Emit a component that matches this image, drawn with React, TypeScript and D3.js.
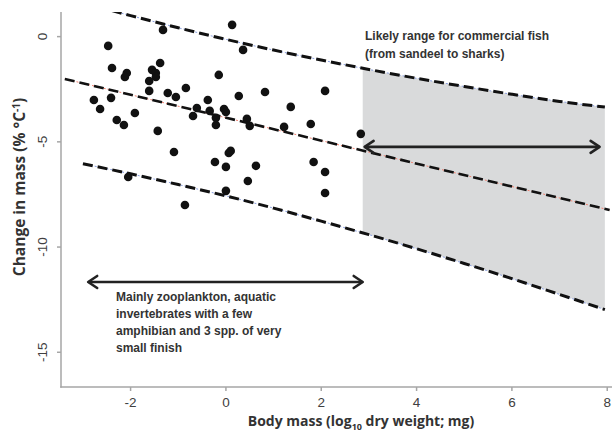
import React from "react";
import * as d3 from "d3";

// Scatter data: body mass (log10 dry weight, mg) vs change in mass (% per °C)
const massX = [0.13, -1.32, -2.47, 0.36, -2.39, -1.38, -2.08, -2.12, -1.55, -1.47, -1.47, -0.15, -1.61, -1.61, -0.84, -1.22, -1.05, -2.77, -2.41, -2.64, 0.27, 0.82, -0.38, -0.61, -0.34, -0.04, 0.0, -0.69, 1.36, -1.91, -2.29, -2.14, -0.21, -0.21, 0.44, 0.5, 1.22, 1.78, -1.43, -1.09, 0.06, 0.1, -0.23, 0.0, 0.63, 1.84, -2.05, 0.46, 0.0, -0.86, 2.08, 2.83, 2.08, 2.08];
const changeY = [0.56, 0.32, -0.44, -0.63, -1.49, -1.25, -1.73, -1.92, -1.58, -1.73, -1.92, -1.82, -2.11, -2.58, -2.44, -2.68, -2.87, -3.01, -2.91, -3.44, -2.82, -2.63, -3.01, -3.39, -3.53, -3.44, -3.58, -3.77, -3.34, -3.63, -3.96, -4.2, -3.86, -4.2, -3.91, -4.24, -4.29, -4.15, -4.48, -5.48, -5.53, -5.43, -5.96, -6.19, -6.14, -5.96, -6.67, -6.86, -7.33, -8.0, -2.58, -4.62, -6.43, -7.43];

// Fitted line end points
const fitX = [-3.38, 8.05];
const fitY = [-2.01, -8.24];

// Prediction band read at discrete x values
const bandX = [-3, -2, -1, 0, 1, 2, 3, 4, 5, 6, 7, 7.95];
const bandUpper = [1.61, 1.0, 0.42, -0.13, -0.64, -1.11, -1.56, -1.98, -2.37, -2.74, -3.08, -3.35];
const bandLower = [-6.04, -6.52, -7.03, -7.57, -8.15, -8.77, -9.41, -10.08, -10.78, -11.5, -12.25, -12.97];

// Commercial fish range (shaded)
const fishRange = [2.87, 7.95];

const xTicks = [-2, 0, 2, 4, 6, 8];
const yTicks = [0, -5, -10, -15];

const W = 616;
const H = 437;

export default function App() {
  const x = d3.scaleLinear().domain([-3.46, 8.1]).range([61, 612]);
  const y = d3.scaleLinear().domain([-16.65, 1.17]).range([387, 12]);

  const bandPts = bandX.map((v, i) => ({ x: v, u: bandUpper[i], l: bandLower[i] }));
  const lineU = d3.line<any>().x((d) => x(d.x)).y((d) => y(d.u)).curve(d3.curveMonotoneX);
  const lineL = d3.line<any>().x((d) => x(d.x)).y((d) => y(d.l)).curve(d3.curveMonotoneX);

  const interp = (arr: number[], xv: number) => {
    const f = d3.scaleLinear().domain(bandX).range(arr);
    return f(xv);
  };
  const shadeXs = [fishRange[0], ...bandX.filter((v) => v > fishRange[0] && v < fishRange[1]), fishRange[1]];
  const shadePts = shadeXs.map((v) => ({ x: v, u: interp(bandUpper, v), l: interp(bandLower, v) }));
  const area = d3
    .area<any>()
    .x((d) => x(d.x))
    .y0((d) => y(d.l))
    .y1((d) => y(d.u))
    .curve(d3.curveMonotoneX);

  const fitLine = d3.line<number>().x((d, i) => x(fitX[i])).y((d) => y(d))(fitY) || "";

  const arrowColor = "#222";
  const dash = "10,5";

  const arrow = (x1: number, x2: number, yv: number, key: string) => {
    const px1 = x(x1), px2 = x(x2), py = y(yv);
    const h = 9, w = 6;
    return (
      <g key={key} stroke={arrowColor} strokeWidth={2.6} fill="none" strokeLinecap="round" strokeLinejoin="round">
        <line x1={px1 + 1} y1={py} x2={px2 - 1} y2={py} />
        <polyline points={`${px1 + h},${py - w} ${px1},${py} ${px1 + h},${py + w}`} />
        <polyline points={`${px2 - h},${py - w} ${px2},${py} ${px2 - h},${py + w}`} />
      </g>
    );
  };

  const annoFont = "'Liberation Sans', Arial, sans-serif";
  const labelFont = "'Open Sans', 'Noto Sans', sans-serif";

  return (
    <svg width={W} height={H} style={{ position: "absolute", left: 0, top: 0, background: "#fff" }}>
      <defs>
        <clipPath id="plotClip">
          <rect x={61} y={12} width={560} height={375} />
        </clipPath>
      </defs>
      <path d={area(shadePts) || ""} fill="#d9dadb" />
      <g clipPath="url(#plotClip)">
        <path d={lineU(bandPts) || ""} fill="none" stroke="#8a9fe0" strokeWidth={1} strokeDasharray="2,2" />
        <path d={lineL(bandPts) || ""} fill="none" stroke="#8a9fe0" strokeWidth={1} strokeDasharray="2,2" />
        <path d={lineU(bandPts) || ""} fill="none" stroke="#111" strokeWidth={3} strokeDasharray={dash} />
        <path d={lineL(bandPts) || ""} fill="none" stroke="#111" strokeWidth={3} strokeDasharray={dash} />
        <path d={fitLine} fill="none" stroke="#f08070" strokeWidth={1} strokeDasharray="2,2" />
        <path d={fitLine} fill="none" stroke="#111" strokeWidth={2.6} strokeDasharray={dash} />
      </g>
      {massX.map((v, i) => (
        <circle key={i} cx={x(v)} cy={y(changeY[i])} r={4.3} fill="#111" />
      ))}
      {arrow(2.91, 7.84, -5.24, "a1")}
      {arrow(-2.89, 2.87, -11.66, "a2")}
      <g fontFamily={annoFont} fontWeight="bold" fontSize={12} fill="#333">
        <text x={365} y={40}>Likely range for commercial fish</text>
        <text x={365} y={58}>(from sandeel to sharks)</text>
        <text x={116} y={301}>Mainly zooplankton, aquatic</text>
        <text x={116} y={318}>invertebrates with a few</text>
        <text x={116} y={335}>amphibian and 3 spp. of very</text>
        <text x={116} y={352}>small finish</text>
      </g>
      <g stroke="#a6a6a6" strokeWidth={1.5}>
        <line x1={61} y1={12} x2={61} y2={387.75} />
        <line x1={60.25} y1={387} x2={612} y2={387} />
        {xTicks.map((t) => (
          <line key={"xt" + t} x1={x(t)} x2={x(t)} y1={387} y2={391} />
        ))}
        {yTicks.map((t) => (
          <line key={"yt" + t} x1={57} x2={61} y1={y(t)} y2={y(t)} />
        ))}
      </g>
      <g fontFamily={annoFont} fontSize={13.5} fill="#404040">
        {xTicks.map((t) => (
          <text key={"xl" + t} x={x(t)} y={406.5} textAnchor="middle">
            {t < 0 ? "-" + Math.abs(t) : t}
          </text>
        ))}
        {yTicks.map((t) => (
          <text
            key={"yl" + t}
            x={0}
            y={0}
            textAnchor="middle"
            transform={`translate(47,${y(t)}) rotate(-90)`}
          >
            {t < 0 ? "-" + Math.abs(t) : t}
          </text>
        ))}
      </g>
      <text
        fontFamily={labelFont}
        fontWeight="bold"
        fontSize={15.5}
        fill="#333"
        textAnchor="middle"
        transform={`translate(25,187) rotate(-90)`}
      >
        Change in mass (% °C<tspan dy={-5} fontSize={10}>-1</tspan>
        <tspan dy={5}>)</tspan>
      </text>
      <text fontFamily={labelFont} fontWeight="bold" fontSize={14} fill="#333" textAnchor="middle" x={361} y={426}>
        Body mass (log<tspan dy={4} fontSize={9}>10</tspan>
        <tspan dy={-4}> dry weight; mg)</tspan>
      </text>
    </svg>
  );
}
